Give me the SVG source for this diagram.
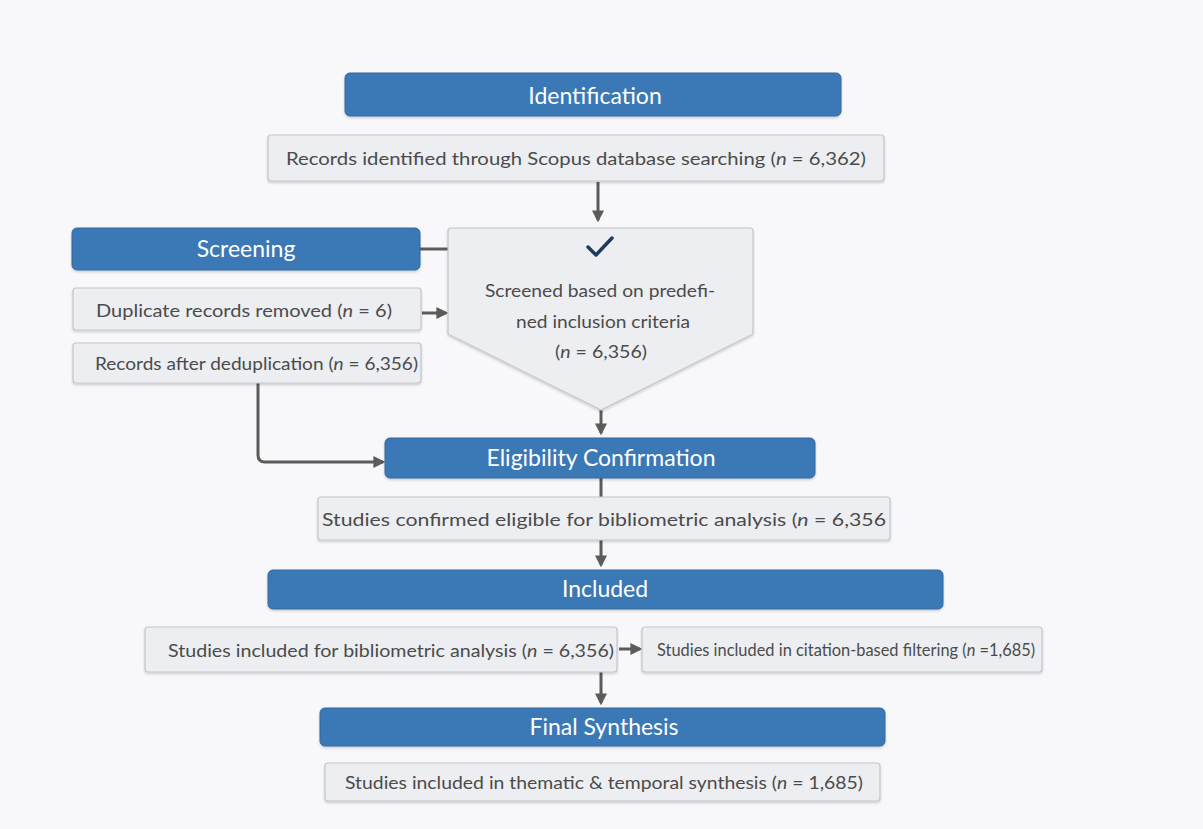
<svg xmlns="http://www.w3.org/2000/svg" width="1203" height="829" viewBox="0 0 1203 829">
<defs>
<style>
.bar{fill:#3b78b6;stroke:#33689f;stroke-width:1}
.box{fill:#eceef1;stroke:#c4c6ca;stroke-width:1.2}
.bt{font-family:Lato,"Open Sans","Liberation Sans",sans-serif;fill:#ffffff;text-anchor:middle;font-size:23px}
.t{font-family:Lato,"Open Sans","Liberation Sans",sans-serif;fill:#4b4b4b;font-size:17px}
.ts{font-size:16.4px}
.c{fill:none;stroke:#5b5b5b;stroke-width:3}
.i{font-style:italic}
</style>
<marker id="ah" viewBox="0 0 10 10" refX="8" refY="5" markerWidth="4" markerHeight="4" orient="auto" markerUnits="strokeWidth">
<path d="M0,0 L10,5 L0,10 Z" fill="#5b5b5b"/>
</marker>
<filter id="sh" x="-5%" y="-20%" width="110%" height="150%">
<feDropShadow dx="0" dy="1.5" stdDeviation="1.2" flood-color="#000" flood-opacity="0.18"/>
</filter>
</defs>
<rect width="1203" height="829" fill="#f8f8fa"/>

<g id="connectors">
<line class="c" x1="598" y1="182" x2="598" y2="220" marker-end="url(#ah)"/>
<line class="c" x1="420" y1="249" x2="448" y2="249"/>
<line class="c" x1="422" y1="313" x2="446" y2="313" marker-end="url(#ah)"/>
<path class="c" d="M258,383 L258,455 Q258,462 265,462 L383,462" marker-end="url(#ah)"/>
<line class="c" x1="601" y1="410" x2="601" y2="433" marker-end="url(#ah)"/>
<line class="c" x1="601" y1="478" x2="601" y2="497"/>
<line class="c" x1="601" y1="540" x2="601" y2="565" marker-end="url(#ah)"/>
<line class="c" x1="619" y1="649" x2="640" y2="649" marker-end="url(#ah)"/>
<line class="c" x1="601" y1="672" x2="601" y2="703" marker-end="url(#ah)"/>
</g>

<g id="identification">
<rect class="bar" x="345" y="73" width="496" height="43" rx="5" filter="url(#sh)"/>
<text class="bt" x="595" y="104">Identification</text>
</g>
<g id="records-identified">
<rect class="box" x="268" y="135" width="616" height="46" rx="3" filter="url(#sh)"/>
<text class="t" x="576" y="165" text-anchor="middle" textLength="580" lengthAdjust="spacingAndGlyphs">Records identified through Scopus database searching (<tspan class="i">n</tspan> = 6,362)</text>
</g>
<g id="screening">
<rect class="bar" x="72" y="228" width="348" height="42" rx="5" filter="url(#sh)"/>
<text class="bt" x="246" y="257">Screening</text>
</g>
<g id="duplicates">
<rect class="box" x="73" y="288" width="348" height="42" rx="3" filter="url(#sh)"/>
<text class="t" x="96" y="317" textLength="296" lengthAdjust="spacingAndGlyphs">Duplicate records removed (<tspan class="i">n</tspan> = 6)</text>
</g>
<g id="deduplicated">
<rect class="box" x="73" y="343" width="348" height="40" rx="3" filter="url(#sh)"/>
<text class="t" x="95" y="370" textLength="323" lengthAdjust="spacingAndGlyphs">Records after deduplication (<tspan class="i">n</tspan> = 6,356)</text>
</g>
<g id="screened">
<path d="M451,228 L750,228 Q753,228 753,231 L753,334 L601,410 L448,334 L448,231 Q448,228 451,228 Z" fill="#eceef1" stroke="#c4c6ca" stroke-width="1.2" filter="url(#sh)"/>
<path d="M588,247 L596,255 L612,238" fill="none" stroke="#1e3b5e" stroke-width="3.5" stroke-linecap="round" stroke-linejoin="round"/>
<text class="t" x="600" y="297" text-anchor="middle" textLength="230" lengthAdjust="spacingAndGlyphs">Screened based on predefi-</text>
<text class="t" x="603" y="328" text-anchor="middle" textLength="174" lengthAdjust="spacingAndGlyphs">ned inclusion criteria</text>
<text class="t" x="601" y="358" text-anchor="middle" textLength="92" lengthAdjust="spacingAndGlyphs">(<tspan class="i">n</tspan> = 6,356)</text>
</g>
<g id="eligibility">
<rect class="bar" x="385" y="438" width="430" height="40" rx="5" filter="url(#sh)"/>
<text class="bt" x="601" y="466">Eligibility Confirmation</text>
</g>
<g id="confirmed">
<rect class="box" x="318" y="497" width="572" height="43" rx="3" filter="url(#sh)"/>
<text class="t" x="322" y="526" textLength="564" lengthAdjust="spacingAndGlyphs">Studies confirmed eligible for bibliometric analysis (<tspan class="i">n</tspan> = 6,356</text>
</g>
<g id="included">
<rect class="bar" x="268" y="570" width="675" height="39" rx="5" filter="url(#sh)"/>
<text class="bt" x="605" y="597">Included</text>
</g>
<g id="included-bibliometric">
<rect class="box" x="145" y="627" width="472" height="45" rx="3" filter="url(#sh)"/>
<text class="t" x="168" y="657" textLength="446" lengthAdjust="spacingAndGlyphs">Studies included for bibliometric analysis (<tspan class="i">n</tspan> = 6,356)</text>
</g>
<g id="citation-filtering">
<rect class="box" x="642" y="627" width="400" height="45" rx="3" filter="url(#sh)"/>
<text class="t ts" x="657" y="656">Studies included in citation-based filtering (<tspan class="i">n</tspan> =1,685)</text>
</g>
<g id="final-synthesis">
<rect class="bar" x="320" y="708" width="565" height="38" rx="5" filter="url(#sh)"/>
<text class="bt" x="604" y="735">Final Synthesis</text>
</g>
<g id="thematic">
<rect class="box" x="325" y="763" width="555" height="38" rx="3" filter="url(#sh)"/>
<text class="t" x="345" y="789" textLength="518" lengthAdjust="spacingAndGlyphs">Studies included in thematic &amp; temporal synthesis (<tspan class="i">n</tspan> = 1,685)</text>
</g>
</svg>
